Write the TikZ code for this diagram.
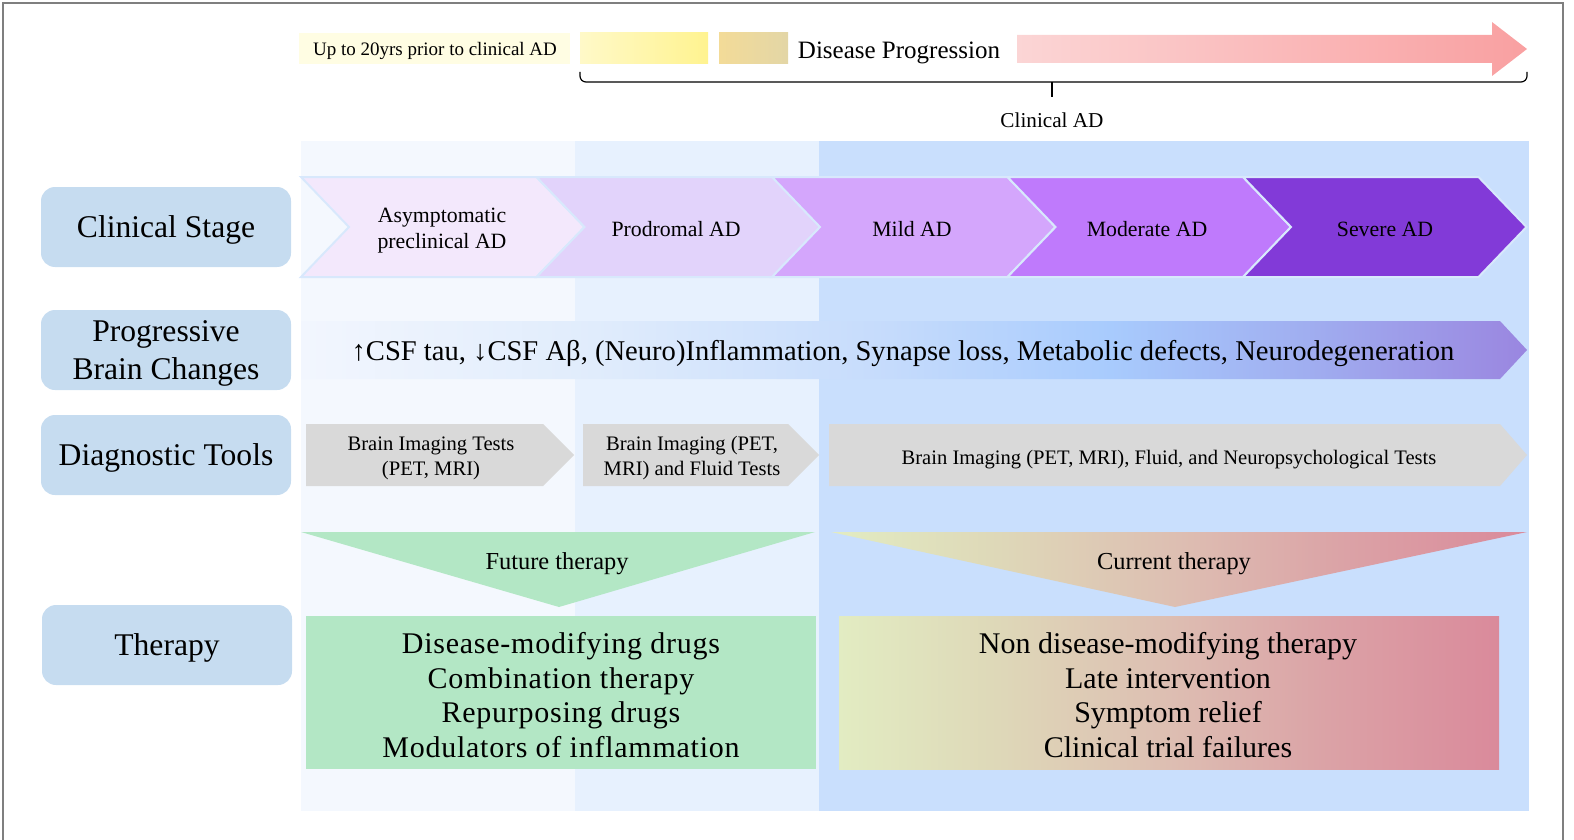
\documentclass[tikz,border=0pt]{standalone}
\usepackage{fontspec}
\setmainfont{Liberation Serif}
\newfontfamily\spacedserif[LetterSpace=2.5]{Liberation Serif}
\usetikzlibrary{calc}

\definecolor{panelA}{HTML}{F4F8FE}
\definecolor{panelB}{HTML}{E7F1FE}
\definecolor{panelC}{HTML}{C9DFFD}
\definecolor{labelblue}{HTML}{C6DCF0}
\definecolor{chevA}{HTML}{F3E8FC}
\definecolor{chevB}{HTML}{E2D3FB}
\definecolor{chevC}{HTML}{D4A6FC}
\definecolor{chevD}{HTML}{BF7AFC}
\definecolor{chevE}{HTML}{823AD8}
\definecolor{sepline}{HTML}{D8E8FC}
\definecolor{diaggray}{HTML}{D9D9D9}
\definecolor{futgreen}{HTML}{B3E7C5}
\definecolor{priorcol}{HTML}{FFFDE3}
\definecolor{yelA}{HTML}{FFF9C8}
\definecolor{yelB}{HTML}{FFF390}
\definecolor{tanA}{HTML}{F3DB98}
\definecolor{tanB}{HTML}{E3D6A6}
\definecolor{pinkA}{HTML}{FBD5D5}
\definecolor{pinkB}{HTML}{F9A0A1}
\definecolor{brA}{HTML}{F2F6FE}
\definecolor{brB}{HTML}{E0ECFC}
\definecolor{brC}{HTML}{C5DBFC}
\definecolor{brD}{HTML}{A8CBFD}
\definecolor{brE}{HTML}{A0AEF0}
\definecolor{brF}{HTML}{9A86E0}
\definecolor{curA}{HTML}{E2ECC2}
\definecolor{curB}{HTML}{DED8B8}
\definecolor{curC}{HTML}{DDBEB2}
\definecolor{curD}{HTML}{DBA2A6}
\definecolor{curE}{HTML}{DA8A9B}
\definecolor{framegray}{HTML}{7F7F7F}

\pgfdeclarehorizontalshading{brainshade}{100bp}{color(0bp)=(brA); color(25bp)=(brA); color(37bp)=(brB); color(49bp)=(brC); color(58bp)=(brD); color(66bp)=(brE); color(75bp)=(brF); color(100bp)=(brF)}
\pgfdeclarehorizontalshading{curshade}{100bp}{color(0bp)=(curA); color(25bp)=(curA); color(37bp)=(curB); color(50bp)=(curC); color(62bp)=(curD); color(75bp)=(curE); color(100bp)=(curE)}

\tikzset{
  rowlabel/.style={fill=labelblue, rounded corners=7pt, minimum width=125pt, minimum height=40pt, text depth=0pt, align=center, font=\fontsize{15.8}{19}\selectfont},
  stagetext/.style={align=center, font=\fontsize{10.9}{13}\selectfont},
  chevron/.style={draw=sepline, line width=1pt},
  diagtext/.style={align=center, font=\fontsize{10.3}{12.5}\selectfont},
  thertitle/.style={font=\fontsize{12.2}{14}\selectfont},
  therlist/.style={align=center, font=\fontsize{15}{17.4}\selectfont},
}

\begin{document}
\begin{tikzpicture}[x=0.5pt, y=-0.5pt]
\useasboundingbox (0,0) rectangle (1574,840);

% frame
\draw[framegray, line width=1pt] (3,840) -- (3,3) -- (1563,3) -- (1563,840);

% background columns
\fill[panelA] (301,141) rectangle (575,811);
\fill[panelB] (575,141) rectangle (819,811);
\fill[panelC] (819,141) rectangle (1529,811);

% timeline on top
\fill[priorcol] (299,33) rectangle (570,64);
\node[font=\fontsize{9.5}{11}\selectfont] (prior) at (435,51) {Up to 20yrs prior to clinical AD};
\shade[left color=yelA, right color=yelB] (580,33) rectangle (708,64);
\shade[left color=tanA, right color=tanB] (719,33) rectangle (788,64);
\node[font=\fontsize{12.5}{15}\selectfont] (progress) at (899,53) {Disease Progression};
\shade[left color=pinkA, right color=pinkB] (1017,35) -- (1492,35) -- (1492,22) -- (1527,49) -- (1492,76) -- (1492,63) -- (1017,63) -- cycle;

\coordinate (braceL) at (580,72);
\coordinate (braceR) at (1527,72);
\coordinate (braceM) at (1052,82);
\draw[line width=0.6pt, rounded corners=3pt] (braceL) |- (braceM) -| (braceR);
\node[font=\fontsize{10.6}{13}\selectfont] (clinAD) at (1052,120) {Clinical AD};
\draw[line width=0.6pt] (braceM) -- ++(0,15);

% row labels
\node[rowlabel] (lblStage) at (166,227) {Clinical Stage};
\node[rowlabel] (lblBrain) at (166,350) {Progressive\\Brain Changes};
\node[rowlabel] (lblDiag) at (166,455) {Diagnostic Tools};
\node[rowlabel] (lblTherapy) at (167,645) {Therapy};

% clinical stages
\fill[chevA, chevron] (301,177) -- ++(235.5,0) -- ++(48,50) -- ++(-48,50) -- ++(-235.5,0) -- ++(48,-50) -- cycle;
\fill[chevB, chevron] (536.5,177) -- ++(235.5,0) -- ++(48,50) -- ++(-48,50) -- ++(-235.5,0) -- ++(48,-50) -- cycle;
\fill[chevC, chevron] (772,177) -- ++(235.5,0) -- ++(48,50) -- ++(-48,50) -- ++(-235.5,0) -- ++(48,-50) -- cycle;
\fill[chevD, chevron] (1007.5,177) -- ++(235.5,0) -- ++(48,50) -- ++(-48,50) -- ++(-235.5,0) -- ++(48,-50) -- cycle;
\fill[chevE, chevron] (1243,177) -- ++(235.5,0) -- ++(48,50) -- ++(-48,50) -- ++(-235.5,0) -- ++(48,-50) -- cycle;
\node[stagetext] (asym) at (442,231) {Asymptomatic\\preclinical AD};
\node[stagetext] (prodromal) at (676,229) {Prodromal AD};
\node[stagetext] (mild) at (912,229) {Mild AD};
\node[stagetext] (moderate) at (1147,229) {Moderate AD};
\node[stagetext] (severe) at (1385,229) {Severe AD};

% brain changes
\shade[shading=brainshade] (301,321) -- (1500,321) -- (1527,350) -- (1500,379) -- (301,379) -- cycle;
\node[font=\fontsize{14.3}{17}\selectfont] (changes) at (903,354) {↑CSF tau, ↓CSF Aβ, (Neuro)Inflammation, Synapse loss, Metabolic defects, Neurodegeneration};

% diagnostic tools
\fill[diaggray] (306,424) -- (543,424) -- (574,455) -- (543,486) -- (306,486) -- cycle;
\fill[diaggray] (583,424) -- (788,424) -- (819,455) -- (788,486) -- (583,486) -- cycle;
\fill[diaggray] (829,424) -- (1500,424) -- (1527,455) -- (1500,486) -- (829,486) -- cycle;
\node[diagtext] (diagA) at (431,458) {Brain Imaging Tests\\(PET, MRI)};
\node[diagtext] (diagB) at (692,458) {Brain Imaging (PET,\\MRI) and Fluid Tests};
\node[diagtext] (diagC) at (1169,460) {Brain Imaging (PET, MRI), Fluid, and Neuropsychological Tests};

% therapy
\fill[futgreen] (301,532) -- (815,532) -- (559,607) -- cycle;
\node[thertitle] (future) at (557,564) {Future therapy};
\shade[shading=curshade] (831,532) -- (1527,532) -- (1175,607) -- cycle;
\node[thertitle] (current) at (1174,564) {Current therapy};

\fill[futgreen] (306,616) rectangle (816,769);
\shade[shading=curshade] (839,616) rectangle (1499,769);
\node[therlist, font=\fontsize{15}{17.4}\spacedserif] (futlist) at (561,695) {Disease-modifying drugs\\Combination therapy\\Repurposing drugs\\Modulators of inflammation};
\node[therlist] (curlist) at (1168,695) {Non disease-modifying therapy\\Late intervention\\Symptom relief\\Clinical trial failures};

\end{tikzpicture}
\end{document}
